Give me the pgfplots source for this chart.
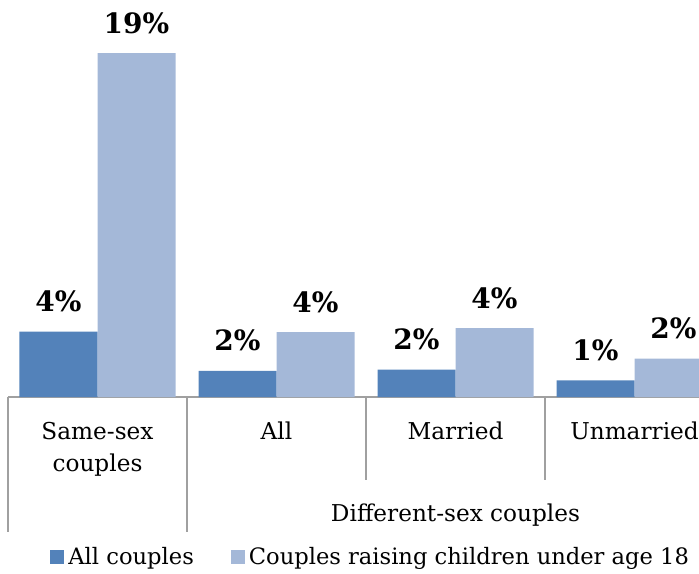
\documentclass[border=0pt]{standalone}
\usepackage{pgfplots}
\pgfplotsset{compat=1.18}
\usepackage{fontspec}
\setmainfont{DejaVu Serif}
\definecolor{darkbar}{RGB}{83,130,186}
\definecolor{lightbar}{RGB}{164,184,216}
\definecolor{axgray}{RGB}{160,160,160}
\begin{document}
\begin{tikzpicture}
\path[use as bounding box, clip] (0,0) rectangle (349.5pt,286.5pt);
\begin{axis}[
  at={(4pt,88pt)}, anchor=south west,
  scale only axis, width=358pt, height=198.5pt,
  xmin=-0.5, xmax=3.5, ymin=0, ymax=21.93,
  hide y axis,
  axis x line*=bottom,
  x axis line style={axgray, -, line width=0.8pt},
  ybar=0pt, bar width=39pt,
  clip=false,
  xtick={0,1,2,3},
  xticklabels={Same-sex\\couples, All, Married, Unmarried},
  xticklabel style={align=center, font=\fontsize{11.6}{16}\selectfont, anchor=north, yshift=-9pt},
  major tick length=0pt,
  nodes near coords,
  point meta=explicit symbolic,
  every node near coord/.append style={font=\bfseries\fontsize{14}{16}\selectfont, anchor=base, yshift=10pt},
  legend style={draw=none, fill=none, legend columns=2, at={(0.0587,-0.403)}, anchor=west, inner sep=0pt,
    font=\fontsize{11.3}{13}\selectfont,
    /tikz/every even column/.append style={column sep=16.5pt}},
  legend image code/.code={\fill[#1] (0pt,-3.5pt) rectangle (7pt,3.5pt);},
]
\addplot[fill=darkbar, draw=none] coordinates {(0,3.61) [4\%] (1,1.45) [2\%] (2,1.51) [2\%] (3,0.92) [1\%]};
\addplot[fill=lightbar, draw=none] coordinates {(0,19) [19\%] (1,3.59) [4\%] (2,3.81) [4\%] (3,2.12) [2\%]};
\legend{All couples, Couples raising children under age 18}
\draw[axgray, line width=0.8pt] (axis cs:-0.5,0) -- ([yshift=-67.5pt]axis cs:-0.5,0);
\draw[axgray, line width=0.8pt] (axis cs:0.5,0) -- ([yshift=-67.5pt]axis cs:0.5,0);
\draw[axgray, line width=0.8pt] (axis cs:1.5,0) -- ([yshift=-41.5pt]axis cs:1.5,0);
\draw[axgray, line width=0.8pt] (axis cs:2.5,0) -- ([yshift=-41.5pt]axis cs:2.5,0);
\node[font=\fontsize{11.6}{13}\selectfont] at ([yshift=-59pt]axis cs:2,0) {Different-sex couples};
\end{axis}
\end{tikzpicture}
\end{document}
